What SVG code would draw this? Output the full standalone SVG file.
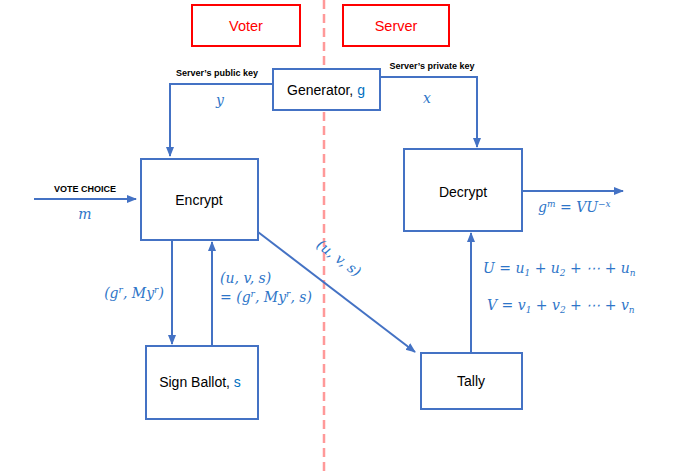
<svg xmlns="http://www.w3.org/2000/svg" width="674" height="473" viewBox="0 0 674 473">
<defs>
<marker id="ah" viewBox="0 0 10 10" refX="9" refY="5" markerWidth="5" markerHeight="5" orient="auto" markerUnits="strokeWidth">
<path d="M0,1 L10,5 L0,9 Z" fill="#4472C4"/>
</marker>
<style>
.box{fill:#fff;stroke:#4472C4;stroke-width:2}
.rbox{fill:#fff;stroke:#FF0000;stroke-width:2}
.lbl{font-family:"Liberation Sans",Arial,sans-serif;font-size:14px;fill:#000;text-anchor:middle}
.rl{font-family:"Liberation Sans",Arial,sans-serif;font-size:14.5px;fill:#FF0000;text-anchor:middle}
.small{font-family:"Liberation Sans",Arial,sans-serif;font-size:9px;font-weight:bold;fill:#000;text-anchor:middle}
.math{font-family:"DejaVu Serif","Liberation Serif",serif;font-style:italic;font-size:14px;fill:#2E75C8}
.hi{fill:#0070C0}
.conn{fill:none;stroke:#4472C4;stroke-width:2}
</style>
</defs>
<rect width="674" height="473" fill="#fff"/>
<line x1="324" y1="0" x2="324" y2="473" stroke="#FF9999" stroke-width="2.5" stroke-dasharray="9,5"/>
<g id="voter"><rect class="rbox" x="192" y="5" width="108" height="41"/><text class="rl" x="246" y="31">Voter</text></g>
<g id="server"><rect class="rbox" x="343" y="5" width="106" height="41"/><text class="rl" x="396" y="31">Server</text></g>
<g id="connectors">
<polyline class="conn" points="273,84 170,84 170,156" marker-end="url(#ah)"/>
<polyline class="conn" points="380,77 477,77 477,147" marker-end="url(#ah)"/>
<line class="conn" x1="34" y1="199" x2="136" y2="199" marker-end="url(#ah)"/>
<line class="conn" x1="172" y1="240" x2="172" y2="344" marker-end="url(#ah)"/>
<line class="conn" x1="212" y1="346" x2="212" y2="242" marker-end="url(#ah)"/>
<line class="conn" x1="258" y1="232" x2="415" y2="352" marker-end="url(#ah)"/>
<line class="conn" x1="471" y1="353" x2="471" y2="233" marker-end="url(#ah)"/>
<line class="conn" x1="522" y1="191" x2="623" y2="191" marker-end="url(#ah)"/>
</g>
<g id="generator"><rect class="box" x="273" y="69" width="107" height="41"/><text class="lbl" x="326" y="95">Generator, <tspan class="hi">g</tspan></text></g>
<g id="encrypt"><rect class="box" x="141" y="159" width="117" height="81"/><text class="lbl" x="199" y="205">Encrypt</text></g>
<g id="signballot"><rect class="box" x="146" y="346" width="112" height="73"/><text class="lbl" x="200" y="387">Sign Ballot, <tspan class="hi">s</tspan></text></g>
<g id="decrypt"><rect class="box" x="404" y="149" width="118" height="82"/><text class="lbl" x="463" y="197">Decrypt</text></g>
<g id="tally"><rect class="box" x="421" y="353" width="101" height="56"/><text class="lbl" x="471" y="386">Tally</text></g>
<g id="labels">
<text class="small" x="217" y="76">Server’s public key</text>
<text class="small" x="432" y="69">Server’s private key</text>
<text class="small" x="85" y="192">VOTE CHOICE</text>
<text class="math" x="220" y="105" text-anchor="middle" font-size="17">y</text>
<text class="math" x="427" y="103" text-anchor="middle" font-size="17">x</text>
<text class="math" x="85" y="219" text-anchor="middle" font-size="16">m</text>
<text class="math" x="134" y="298" text-anchor="middle" font-size="13">(g<tspan dy="-5" font-size="9">r</tspan><tspan dy="5">, My</tspan><tspan dy="-5" font-size="9">r</tspan><tspan dy="5">)</tspan></text>
<text class="math" x="220" y="283" font-size="14">(u, v, s)</text>
<text class="math" x="220" y="302" font-size="13">= (g<tspan dy="-5" font-size="9">r</tspan><tspan dy="5">, My</tspan><tspan dy="-5" font-size="9">r</tspan><tspan dy="5">, s)</tspan></text>
<text class="math" x="0" y="0" font-size="14" text-anchor="middle" transform="translate(336,262) rotate(37)">(u, v, s)</text>
<text class="math" x="538" y="212" font-size="13">g<tspan dy="-5" font-size="9">m</tspan><tspan dy="5"> =  VU</tspan><tspan dy="-5" font-size="9">−x</tspan></text>
<text class="math" x="483" y="273" font-size="14">U =  u<tspan dy="3" font-size="9">1</tspan><tspan dy="-3"> + u</tspan><tspan dy="3" font-size="9">2</tspan><tspan dy="-3"> + ⋯ + u</tspan><tspan dy="3" font-size="9">n</tspan></text>
<text class="math" x="487" y="310" font-size="14">V = v<tspan dy="3" font-size="9">1</tspan><tspan dy="-3"> + v</tspan><tspan dy="3" font-size="9">2</tspan><tspan dy="-3"> + ⋯ + v</tspan><tspan dy="3" font-size="9">n</tspan></text>
</g>
</svg>
